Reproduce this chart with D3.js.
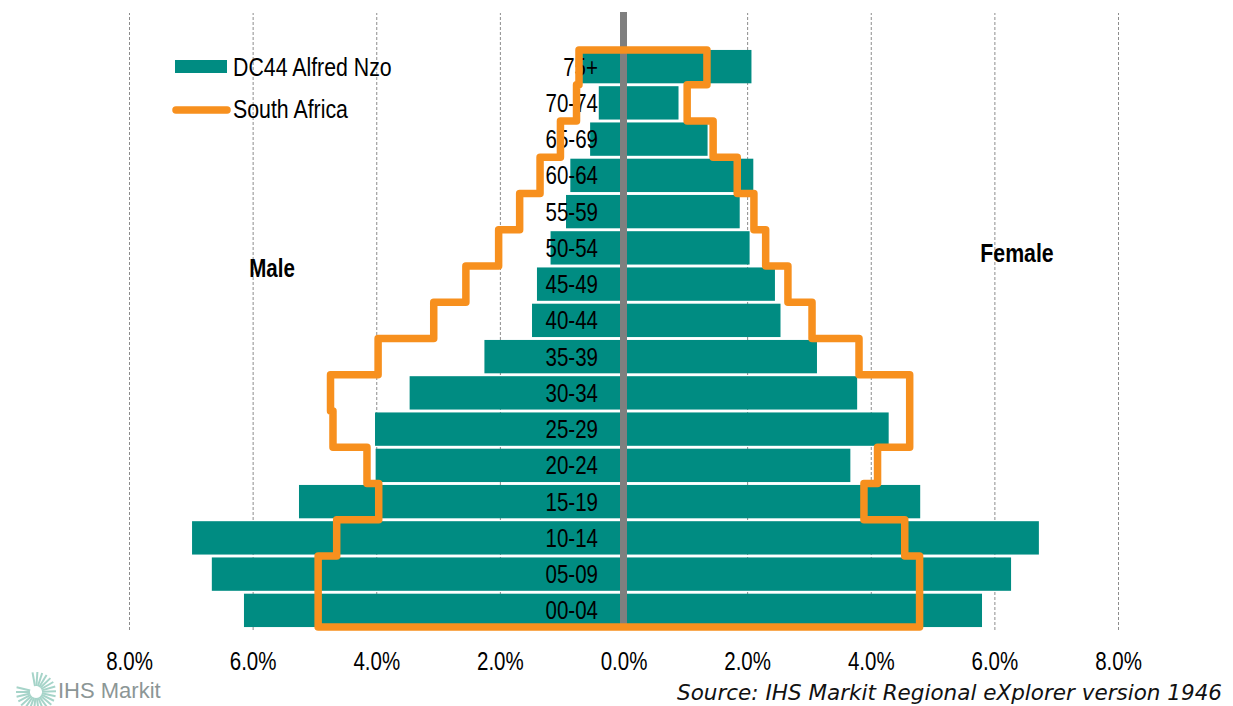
<!DOCTYPE html>
<html>
<head>
<meta charset="utf-8">
<script src="https://cdn.jsdelivr.net/npm/d3@7"></script>
<style>
  body { margin: 0; background: #fff; }
  svg { display: block; }
</style>
</head>
<body>
<div id="chart"></div>
<script>
// age groups, bottom to top
const ageGroups = ['00-04', '05-09', '10-14', '15-19', '20-24', '25-29', '30-34', '35-39',
  '40-44', '45-49', '50-54', '55-59', '60-64', '65-69', '70-74', '75+'];
// DC44 Alfred Nzo, % of total population
const districtMale = [6.14, 6.66, 6.98, 5.25, 4.01, 4.02, 3.46, 2.25, 1.48, 1.40, 1.18, 0.93, 0.86, 0.54, 0.40, 0.67];
const districtFemale = [5.80, 6.27, 6.72, 4.80, 3.67, 4.29, 3.78, 3.13, 2.54, 2.45, 2.04, 1.88, 2.10, 1.36, 0.89, 2.07];
// South Africa, % of total population
const saMale = [4.94, 4.94, 4.64, 3.96, 4.15, 4.70, 4.74, 3.97, 3.07, 2.55, 2.02, 1.68, 1.35, 1.02, 0.76, 0.72];
const saFemale = [4.79, 4.79, 4.55, 3.89, 4.11, 4.63, 4.63, 3.81, 3.05, 2.66, 2.30, 2.11, 1.84, 1.45, 1.03, 1.35];
const tickValues = [-8, -6, -4, -2, 0, 2, 4, 6, 8];

const width = 1233;
const height = 706;
// no narrow font installed, so squeeze Liberation Sans horizontally
const sans = '"Liberation Sans", Arial, sans-serif';
const squeeze = 0.82;
const teal = '#008c82';
const orange = '#f7901e';

const svg = d3.select('#chart')
  .append('svg')
  .attr('width', width)
  .attr('height', height);

const narrowText = (parent, x, y, str, size, anchor) => parent.append('text')
  .attr('transform', `translate(${x},${y}) scale(${squeeze},1)`)
  .attr('dy', '0.36em')
  .attr('text-anchor', anchor || 'start')
  .style('font-family', sans)
  .style('font-size', size + 'px')
  .attr('fill', '#000')
  .text(str);

const xScale = d3.scaleLinear()
  .domain([-8, 8])
  .range([129, 1118]);

const yScale = d3.scaleBand()
  .domain(ageGroups.slice().reverse())
  .range([48.5, 628.5])
  .paddingInner(0.08)
  .paddingOuter(0.04);

const rows = ageGroups.map((g, i) => ({
  group: g,
  dm: districtMale[i],
  df: districtFemale[i],
  sm: saMale[i],
  sf: saFemale[i]
}));

// dashed grid lines
const grid = d3.axisBottom(xScale)
  .tickValues(tickValues.filter(d => d !== 0))
  .tickSize(-617)
  .tickFormat('');
svg.append('g')
  .attr('transform', 'translate(0,630)')
  .call(grid)
  .call(g => g.select('.domain').remove())
  .call(g => g.selectAll('line')
    .attr('stroke', '#8c8c8c')
    .attr('stroke-width', 1)
    .attr('stroke-dasharray', '3,2'));

// bars
svg.selectAll('.bar-m')
  .data(rows)
  .enter()
  .append('rect')
  .attr('x', d => xScale(-d.dm))
  .attr('y', d => yScale(d.group))
  .attr('width', d => xScale(0) - xScale(-d.dm))
  .attr('height', yScale.bandwidth())
  .attr('fill', teal);

svg.selectAll('.bar-f')
  .data(rows)
  .enter()
  .append('rect')
  .attr('x', xScale(0))
  .attr('y', d => yScale(d.group))
  .attr('width', d => xScale(d.df) - xScale(0))
  .attr('height', yScale.bandwidth())
  .attr('fill', teal);

// centre line
svg.append('line')
  .attr('x1', xScale(0))
  .attr('x2', xScale(0))
  .attr('y1', 12)
  .attr('y2', 628)
  .attr('stroke', '#7f7f7f')
  .attr('stroke-width', 7);

// age labels
rows.forEach(d => {
  narrowText(svg, 598, yScale(d.group) + yScale.bandwidth() / 2, d.group, 25, 'end');
});

// South Africa outline
const topDown = rows.slice().reverse();
const gap = yScale.step() - yScale.bandwidth();
const yTop = (d, i) => i === 0 ? yScale(d.group) : yScale(d.group) - gap / 2;
const yBot = (d, i) => i === topDown.length - 1 ? yScale(d.group) + yScale.bandwidth() : yScale(d.group) + yScale.bandwidth() + gap / 2;
const pts = [];
topDown.forEach((d, i) => {
  pts.push([xScale(-d.sm), yTop(d, i)]);
  pts.push([xScale(-d.sm), yBot(d, i)]);
});
topDown.slice().reverse().forEach((d, j) => {
  const i = topDown.length - 1 - j;
  pts.push([xScale(d.sf), yBot(d, i)]);
  pts.push([xScale(d.sf), yTop(d, i)]);
});
svg.append('path')
  .attr('d', d3.line()(pts) + 'Z')
  .attr('fill', 'none')
  .attr('stroke', orange)
  .attr('stroke-width', 7.5)
  .attr('stroke-linejoin', 'round');

// x axis labels
const xAxis = d3.axisBottom(xScale)
  .tickValues(tickValues)
  .tickSize(0)
  .tickPadding(0)
  .tickFormat(d => Math.abs(d).toFixed(1) + '%');
svg.append('g')
  .attr('transform', 'translate(0,661)')
  .call(xAxis)
  .call(g => g.select('.domain').remove())
  .call(g => g.selectAll('text')
    .attr('y', 0)
    .attr('dy', '0.36em')
    .attr('transform', `scale(${squeeze},1)`)
    .style('font-family', sans)
    .style('font-size', '25px')
    .attr('fill', '#000'));

// Male / Female
narrowText(svg, 272, 268, 'Male', 25, 'middle').style('font-weight', 'bold');
narrowText(svg, 1017, 253, 'Female', 26, 'middle').style('font-weight', 'bold');

// legend
const legend = svg.append('g');
legend.append('rect')
  .attr('x', 175).attr('y', 60).attr('width', 52).attr('height', 13)
  .attr('fill', teal);
narrowText(legend, 233, 67, 'DC44 Alfred Nzo', 26);
legend.append('line')
  .attr('x1', 176).attr('x2', 227).attr('y1', 110).attr('y2', 110)
  .attr('stroke', orange).attr('stroke-width', 7.5).attr('stroke-linecap', 'round');
narrowText(legend, 233, 109, 'South Africa', 26);

// source
svg.append('text')
  .attr('x', 1222).attr('y', 692).attr('dy', '0.36em')
  .attr('text-anchor', 'end')
  .style('font-family', '"DejaVu Sans", Verdana, sans-serif')
  .style('font-style', 'italic')
  .style('font-size', '21.5px')
  .attr('fill', '#111')
  .text('Source: IHS Markit Regional eXplorer version 1946');

// IHS Markit logo
const logo = svg.append('g').attr('transform', 'translate(36,692)');
d3.range(-100, 200, 14).forEach(a => {
  const r = a * Math.PI / 180;
  logo.append('line')
    .attr('x1', Math.cos(r) * 6).attr('y1', Math.sin(r) * 6)
    .attr('x2', Math.cos(r) * 20).attr('y2', Math.sin(r) * 20)
    .attr('stroke', '#a6d4c9').attr('stroke-width', 2);
});
svg.append('text')
  .attr('x', 58).attr('y', 690).attr('dy', '0.36em')
  .style('font-family', sans)
  .style('font-size', '22px')
  .attr('fill', '#8c9696')
  .text('IHS Markit');
</script>
</body>
</html>
